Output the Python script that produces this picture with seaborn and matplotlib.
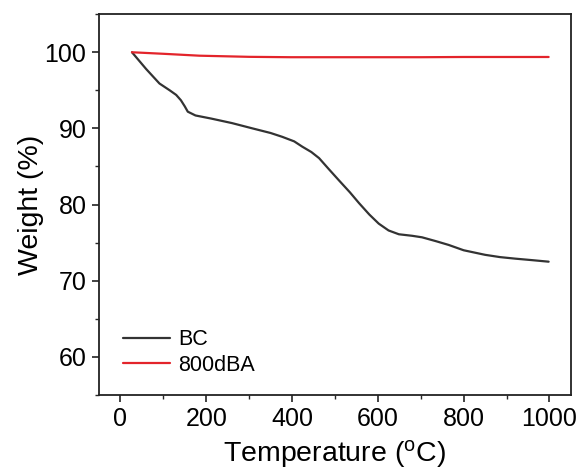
import numpy as np
import pandas as pd
import matplotlib
matplotlib.use("Agg")
import matplotlib.pyplot as plt
from matplotlib.ticker import MultipleLocator
import seaborn as sns

bc_temp = [27, 60, 91, 115, 130, 141, 150, 157, 175, 211, 260, 308, 350, 377, 405, 424, 445, 463, 485, 509, 535, 556, 580, 602, 625, 649, 680, 703, 735, 765, 800, 850, 885, 920, 960, 998]
bc_weight = [100.0, 97.8, 95.9, 95.0, 94.4, 93.7, 92.9, 92.2, 91.7, 91.3, 90.7, 90.0, 89.4, 88.9, 88.3, 87.6, 86.9, 86.1, 84.7, 83.2, 81.6, 80.2, 78.7, 77.5, 76.6, 76.1, 75.9, 75.7, 75.2, 74.7, 74.0, 73.4, 73.1, 72.9, 72.7, 72.5]
dba_temp = [27, 100, 184, 300, 397, 500, 600, 700, 800, 900, 998]
dba_weight = [100.0, 99.8, 99.55, 99.4, 99.35, 99.35, 99.35, 99.35, 99.38, 99.38, 99.38]
series_names = ["BC", "800dBA"]

df = pd.concat([
    pd.DataFrame({"Temperature": bc_temp, "Weight": bc_weight, "Sample": series_names[0]}),
    pd.DataFrame({"Temperature": dba_temp, "Weight": dba_weight, "Sample": series_names[1]}),
], ignore_index=True)

sns.set_theme(style="ticks")
plt.rcParams["font.family"] = ["Liberation Sans", "DejaVu Sans"]

fig, ax = plt.subplots(figsize=(5.82, 4.73), dpi=100)
fig.subplots_adjust(left=0.170, right=0.981, top=0.970, bottom=0.165)

sns.lineplot(data=df, x="Temperature", y="Weight", hue="Sample",
             palette={"BC": "#333333", "800dBA": "#e3242b"},
             linewidth=1.6, ax=ax, sort=False, estimator=None)

ax.set_xlim(-50, 1050)
ax.set_ylim(55, 105)
ax.xaxis.set_major_locator(MultipleLocator(200))
ax.xaxis.set_minor_locator(MultipleLocator(100))
ax.yaxis.set_major_locator(MultipleLocator(10))
ax.yaxis.set_minor_locator(MultipleLocator(5))
ax.set_yticks([60, 70, 80, 90, 100])
ax.tick_params(which="major", direction="out", length=5, width=1.2, labelsize=18,
               colors="#222222", labelcolor="black", pad=4)
ax.tick_params(which="minor", direction="out", length=3, width=1.0)
for sp in ax.spines.values():
    sp.set_visible(True)
    sp.set_linewidth(1.3)
    sp.set_color("#222222")

ax.set_xlabel("Temperature ($\\mathregular{^o}$C)", fontsize=20.5, labelpad=5, color="black")
ax.set_ylabel("Weight (%)", fontsize=20.5, labelpad=0.5, color="black")

leg = ax.legend(loc="lower left", frameon=False, fontsize=15.5, handlelength=2.2,
                handletextpad=0.4, labelspacing=0.2, borderaxespad=0.5,
                bbox_to_anchor=(0.009, 0.0))
for t in leg.get_texts():
    t.set_color("black")

fig.savefig("out.png", dpi=100)
